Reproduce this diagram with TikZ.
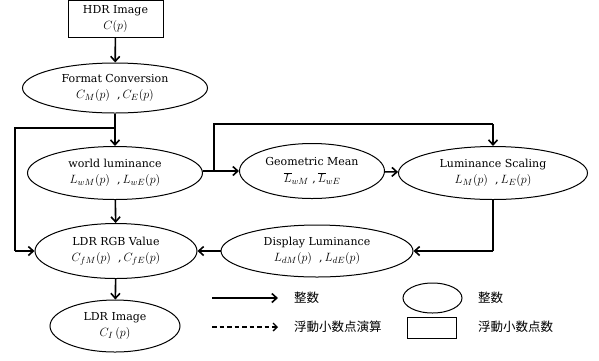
\documentclass[tikz,border=0pt]{standalone}
\usepackage{fontspec}
\setmainfont{DejaVu Serif}[Scale=0.88]
\newfontfamily\jpfont{Noto Sans CJK JP}
\usetikzlibrary{shapes.geometric,arrows.meta}
\begin{document}
\begin{tikzpicture}[x=1pt,y=-1pt,
  font=\fontsize{12.5}{16}\selectfont,
  oval/.style={ellipse,draw,line width=1pt,inner sep=0pt,align=center},
  procbox/.style={rectangle,draw,line width=1pt,inner sep=0pt,align=center},
  flow/.style={line width=1.6pt,-{Straight Barb[length=5pt,width=9pt,line width=1.6pt]}},
  bigflow/.style={line width=2.6pt},
  dflow/.style={line width=1.3pt,dash pattern=on 4.5pt off 3pt,-{Straight Barb[length=4pt,width=8pt,line width=1.3pt]}},
  legtext/.style={anchor=west,font=\jpfont\fontsize{12.5}{14}\selectfont}]
\useasboundingbox (0,0) rectangle (599,360);

% main nodes
\node[procbox,minimum width=95pt,minimum height=37pt] (hdr) at (115.5,18.5) {HDR Image\\$C(p)$};
\node[oval,minimum width=185pt,minimum height=50pt] (fmt) at (115,88) {Format Conversion\\$C_M(p)$\ \ ,$\,C_E(p)$};
\node[oval,minimum width=175pt,minimum height=53pt] (wl) at (115,173) {world luminance\\$L_{wM}(p)$\ \ ,$\,L_{wE}(p)$};
\node[oval,minimum width=145pt,minimum height=55pt] (gm) at (312,171) {Geometric Mean\\[1pt]$\overline{L}_{wM}$\ ,$\,\overline{L}_{wE}$};
\node[oval,minimum width=189pt,minimum height=53pt] (ls) at (493,173) {Luminance Scaling\\$L_M(p)$\ \ ,$\,L_E(p)$};
\node[oval,minimum width=192pt,minimum height=52pt] (dl) at (317,251) {Display Luminance\\$L_{dM}(p)$\ \ ,$\,L_{dE}(p)$};
\node[oval,minimum width=162pt,minimum height=55pt] (rgb) at (116,251) {LDR RGB Value\\$C_{fM}(p)$\ \ ,$\,C_{fE}(p)$};
\node[oval,minimum width=130pt,minimum height=52pt] (ldr) at (115,326) {LDR Image\\$C_I\,(p)$};

% junction points
\coordinate (j1) at (115,128);
\coordinate (j2) at (214,171);

% connectors
\draw[flow] (hdr) -- (fmt);
\draw[flow] (fmt) -- (wl);
\draw[line width=1.6pt] (j1) -- (15,128) -- (15,251);
\draw[flow] (15,251) -- (rgb.west);
\draw[flow] (wl.east |- j2) -- (gm.west |- j2);
\draw[bigflow] (j2) -- (214,124) -- (ls.north |- 0,124);
\draw[flow] (ls.north |- 0,124) -- (ls.north);
\draw[flow] (gm) -- (ls);
\draw[line width=1.6pt] (ls.south) -- (ls.south |- dl.east);
\draw[flow] (ls.south |- dl.east) -- (dl.east);
\draw[flow] (dl) -- (rgb);
\draw[flow] (wl) -- (rgb);
\draw[flow] (rgb) -- (ldr);

% legend
\coordinate (la1) at (212,298);
\coordinate (la2) at (278,298);
\coordinate (lb1) at (212,327);
\coordinate (lb2) at (278,327);
\draw[flow] (la1) -- (la2);
\draw[dflow] (lb1) -- (lb2);
\node[legtext] (lt1) at (291,298) {整数};
\node[legtext] (lt2) at (291,327) {浮動小数点演算};
\node[ellipse,draw,line width=1pt,minimum width=59pt,minimum height=30pt,inner sep=0pt] (le) at (432.5,298) {};
\node[rectangle,draw,line width=1pt,minimum width=49pt,minimum height=21pt,inner sep=0pt] (lr) at (431.5,327.5) {};
\node[legtext] (lt3) at (475,298) {整数};
\node[legtext] (lt4) at (475,327) {浮動小数点数};
\end{tikzpicture}
\end{document}
